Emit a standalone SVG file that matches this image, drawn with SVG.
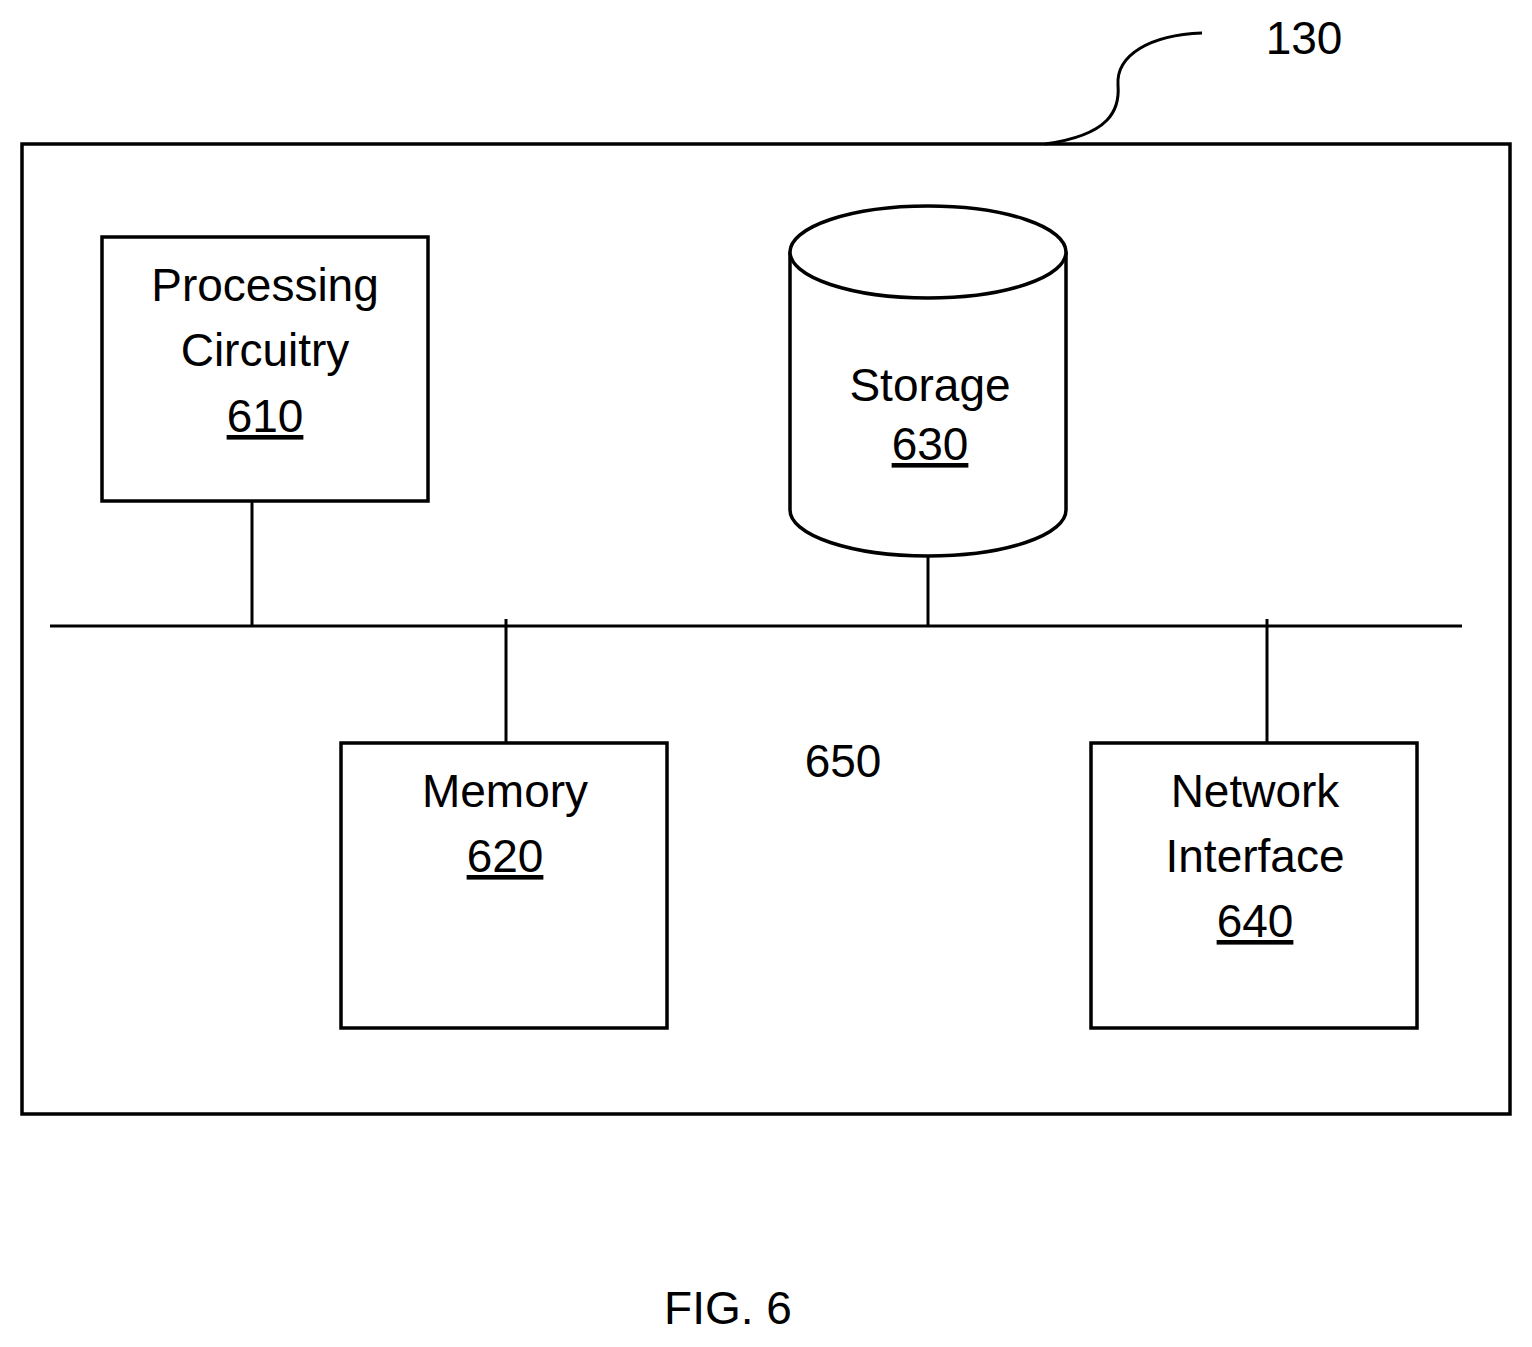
<svg xmlns="http://www.w3.org/2000/svg" width="1532" height="1347" viewBox="0 0 1532 1347">
<style>
.b{fill:#fff;stroke:#000;stroke-width:3.5}
.l{fill:none;stroke:#000;stroke-width:3}
text{font-family:"Liberation Sans",Arial,sans-serif;font-size:46px;fill:#000;text-anchor:middle}
</style>
<rect width="1532" height="1347" fill="#fff"/>
<g id="device130">
<rect class="b" x="22" y="144" width="1488" height="970"/>
<path class="l" d="M1045,144 C1110,135 1120,110 1118,85 C1116,55 1150,35 1202,33" stroke-width="2"/>
<text x="1304" y="54" font-size="44">130</text>
</g>
<g id="connectors">
<line class="l" x1="50" y1="626" x2="1462" y2="626"/>
<line class="l" x1="252" y1="501" x2="252" y2="626"/>
<line class="l" x1="928" y1="555" x2="928" y2="626"/>
<line class="l" x1="506" y1="619" x2="506" y2="743"/>
<line class="l" x1="1267" y1="619" x2="1267" y2="743"/>
<text x="843" y="777">650</text>
</g>
<g id="n610">
<rect class="b" x="102" y="237" width="326" height="264"/>
<text x="265" y="301">Processing</text>
<text x="265" y="366">Circuitry</text>
<text x="265" y="432" text-decoration="underline">610</text>
</g>
<g id="n630">
<path class="b" d="M790,252 L790,510 A138,46 0 0 0 1066,510 L1066,252"/>
<ellipse class="b" cx="928" cy="252" rx="138" ry="46"/>
<text x="930" y="401">Storage</text>
<text x="930" y="460" text-decoration="underline">630</text>
</g>
<g id="n620">
<rect class="b" x="341" y="743" width="326" height="285"/>
<text x="505" y="807">Memory</text>
<text x="505" y="872" text-decoration="underline">620</text>
</g>
<g id="n640">
<rect class="b" x="1091" y="743" width="326" height="285"/>
<text x="1255" y="807">Network</text>
<text x="1255" y="872">Interface</text>
<text x="1255" y="937" text-decoration="underline">640</text>
</g>
<text x="728" y="1324">FIG. 6</text>
</svg>
